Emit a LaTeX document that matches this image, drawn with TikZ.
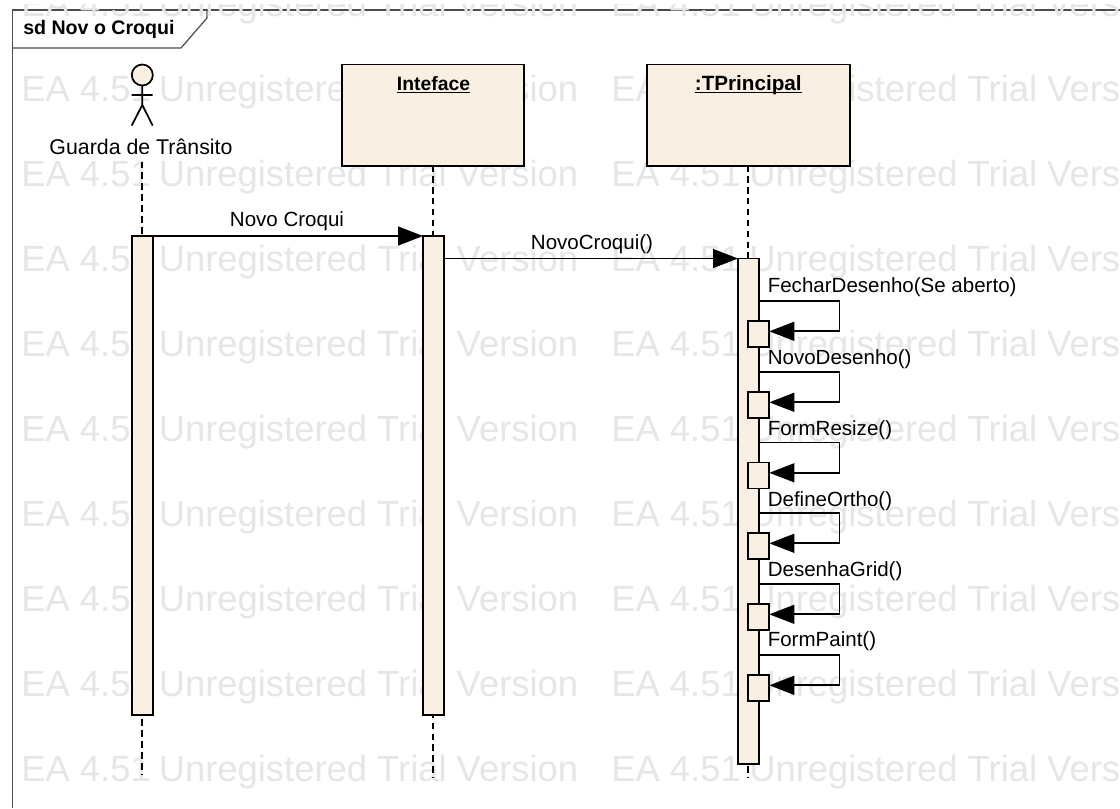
\documentclass[tikz,border=0pt]{standalone}
\usepackage{fontspec}
\setmainfont{Liberation Sans}
\usetikzlibrary{arrows.meta,calc}
\definecolor{fillc}{HTML}{F9F0E3}
\definecolor{wm}{HTML}{E6E6E6}
\newcommand{\wmrow}[1]{%
  \node[wmtext] (#1a) at (21,#1) {EA 4.51};
  \node[wmtext] (#1b) at (158.5,#1) {Unregistered Trial Version};
  \node[wmtext] (#1c) at (611,#1) {EA 4.51};
  \node[wmtext] (#1d) at (749,#1) {Unregistered Trial Version};
}
\newcommand{\ulbox}[1]{\setbox0=\hbox{#1}\rlap{\rule[-2.5pt]{\wd0}{1.3pt}}\box0}
\tikzset{
  x=0.75pt,y=-0.75pt,
  wmtext/.style={anchor=base west,inner sep=0pt,text=wm,font=\fontsize{27.3pt}{30pt}\selectfont},
  lbl/.style={anchor=base,inner sep=0pt,text=black,font=\fontsize{15.4pt}{18pt}\selectfont},
  hdr/.style={anchor=base,inner sep=0pt,text=black,font=\bfseries\fontsize{14.5pt}{17pt}\selectfont},
  selflbl/.style={lbl,anchor=base west},
  objbox/.style={draw=black,line width=1.3pt,fill=fillc,anchor=north west,inner sep=0pt,outer sep=0pt,minimum height=76pt},
  bar/.style={draw=black,line width=1.3pt,fill=fillc,anchor=north west,inner sep=0pt,outer sep=0pt,minimum width=15.5pt},
  smallbar/.style={draw=black,line width=1.3pt,fill=fillc,anchor=north west,inner sep=0pt,outer sep=0pt,minimum width=15.75pt,minimum height=19.5pt},
  life/.style={draw=black,line width=1.3pt,dash pattern=on 5pt off 3.2pt},
  msg/.style={draw=black,line width=1.4pt,-{Triangle[length=18.75pt,width=14.5pt,line width=0pt]}},
  framel/.style={draw=black!70,line width=0.9pt},
}
\begin{document}
\begin{tikzpicture}
\useasboundingbox (0,0) rectangle (1120,808);
\fill[white] (0,0) rectangle (1120,808);
% frame
\coordinate (ftl) at (12.5,10);
\coordinate (ftr) at (1120,10);
\coordinate (fbl) at (12.5,808);
\draw[framel] (ftr) -- (ftl) -- (fbl);
\draw[framel] (207,10) -- (207,18) -- (181,48) -- (12.5,48);
\begin{scope}
\clip (0,4) rectangle (1120,808);
\wmrow{16}\wmrow{101}\wmrow{186}\wmrow{271}\wmrow{356}\wmrow{441}\wmrow{526}\wmrow{611}\wmrow{696}\wmrow{781}
\end{scope}
\node[anchor=base west,inner sep=0pt,font=\bfseries\fontsize{14.7pt}{17pt}\selectfont] (title) at (23,34) {sd Nov o Croqui};
% lifelines
\coordinate (l1a) at (142.3,161.5);
\coordinate (l1b) at (142.3,775);
\coordinate (l2a) at (433,165);
\coordinate (l2b) at (433,778);
\coordinate (l3a) at (748.3,165);
\coordinate (l3b) at (748.3,778);
\draw[life] (l1a) -- (l1b);
\draw[life] (l2a) -- (l2b);
\draw[life] (l3a) -- (l3b);
% actor
\draw[line width=1.3pt,fill=fillc] (142.3,75) circle[radius=10.5];
\draw[line width=1.3pt] (142.3,85.5) -- (142.3,105) (131.7,95) -- (152.7,95) (131.7,125.6) -- (142.3,105) -- (152.7,125.6);
\node[lbl,font=\fontsize{16pt}{18pt}\selectfont] (actor) at (141,154) {Guarda de Trânsito};
% objects
\node[objbox,minimum width=136.5pt] (iface) at (342,64.5) {};
\node[hdr] (ifacet) at (433.5,90) {\ulbox{Inteface}};
\node[objbox,minimum width=152.25pt] (tp) at (647,64.5) {};
\node[hdr,font=\bfseries\fontsize{15.5pt}{17pt}\selectfont] (tpt) at (748.3,90) {\ulbox{:TPrincipal}};
% activations
\node[bar,minimum height=359pt] (a1) at (132,236) {};
\node[bar,minimum height=359pt] (a2) at (423,236) {};
\node[bar,minimum height=379pt] (a3) at (738,258.5) {};
% messages
\coordinate (m1) at (a2.north west);
\draw[msg] (a1.north east) -- (m1);
\draw[msg] ($(a2.north east)+(0,22.5)$) -- (a3.north west);
\node[lbl] (m1t) at (287,226.7) {Novo Croqui};
\node[lbl] (m2t) at (592,249) {NovoCroqui()};
% self messages
\foreach \n/\t/\txt/\ly in {1/301/FecharDesenho(Se aberto)/292.7,2/372/NovoDesenho()/364,3/442.5/FormResize()/435,4/513/DefineOrtho()/506,5/584/DesenhaGrid()/576,6/655/FormPaint()/646.7}{
  \node[smallbar] (b\n) at (748.3,\t+20) {};
  \coordinate (s\n) at (758.5,\t);
  \coordinate (c\n) at (839.5,\t);
  \coordinate (d\n) at (839.5,\t+30.3);
  \coordinate (e\n) at (b\n.north east |- d\n);
  \draw[msg] (s\n) -- (c\n) -- (d\n) -- (e\n);
  \node[selflbl] (t\n) at (767.5,\ly) {\txt};
}
\end{tikzpicture}
\end{document}
